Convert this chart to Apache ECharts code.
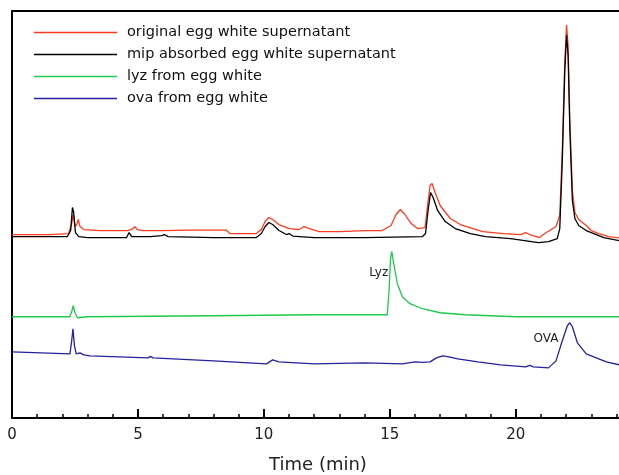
<!DOCTYPE html>
<html>
<head>
<meta charset="utf-8">
<script src="https://cdn.jsdelivr.net/npm/echarts@6/dist/echarts.min.js"></script>
<style>
  html, body { margin: 0; padding: 0; background: #fff; }
  #chart { width: 619px; height: 475px; }
</style>
</head>
<body>
<div id="chart"></div>
<script>
// chromatograms: [time (min), detector signal (arb. units)]
const seriesNames = [
  'original egg white supernatant',
  'mip absorbed egg white supernatant',
  'lyz from egg white',
  'ova from egg white'
];
const seriesColors = ['#ff3b1f', '#000000', '#1fc94a', '#25209c'];

const originalSup = [
  [0,183],[1.5,183],[2.25,184],[2.38,195],[2.43,203],[2.5,191],[2.57,193],[2.63,198],[2.7,191],[2.85,188],
  [3.5,187],[4.6,187],[4.8,189],[4.88,191],[4.97,188],[5.2,187],[6,187],[7,187.5],[8.5,187.5],[8.65,184],
  [9.7,184],[9.9,188],[10.05,196],[10.2,200],[10.35,198],[10.6,193],[11.0,189],[11.4,188],[11.6,191],[11.8,189],
  [12.2,186],[13.0,186],[14,187],[14.7,187],[15.05,192],[15.25,203],[15.42,208],[15.6,203],[15.85,194],[16.1,189],
  [16.4,190],[16.5,212],[16.6,232],[16.68,234],[16.8,225],[17.0,212],[17.4,199],[17.8,193],[18.3,189],[18.7,186],
  [19.5,184],[20.2,183],[20.4,185],[20.55,183],[20.95,180],[21.15,184],[21.35,187],[21.6,191],[21.75,202],[21.85,267],
  [21.95,357],[22.02,392],[22.08,372],[22.15,297],[22.25,227],[22.35,205],[22.5,198],[22.8,192],[23.0,187],[23.3,184],
  [23.7,181],[24.3,179]
];
const mipSup = [
  [0,181],[2.2,181],[2.33,187],[2.4,210],[2.45,205],[2.52,185],[2.65,181],[3,180],[4.55,180],[4.65,185],
  [4.75,181],[5.5,181],[5.95,182],[6.05,183],[6.2,181],[8,180],[9.7,180],[9.9,184],[10.05,191],[10.2,195],
  [10.35,193],[10.6,187],[10.9,183],[11.0,184],[11.15,181.5],[12,180],[14,180],[16.3,181],[16.42,184],[16.52,207],
  [16.62,225],[16.72,220],[16.9,207],[17.2,196],[17.6,189],[18.2,184],[18.8,181],[19.8,179],[20.9,175],[21.3,176],
  [21.65,179],[21.75,189],[21.85,257],[21.95,347],[22.02,382],[22.08,362],[22.15,287],[22.25,217],[22.35,199],[22.5,192],
  [22.8,187],[23.1,184],[23.5,180],[24.3,176]
];
const lyz = [
  [0,101],[2.3,101],[2.38,107],[2.43,112],[2.5,105],[2.6,100],[3,101],[8,102],[12,103],[14.9,103],
  [14.97,127],[15.03,159],[15.08,166],[15.15,155],[15.3,134],[15.5,121],[15.8,114],[16.3,109],[17,105],[18,103],
  [20,101],[24.3,101]
];
const ova = [
  [0,66],[2.3,64],[2.37,77],[2.42,89],[2.48,72],[2.55,64],[2.7,65],[2.85,63],[3.1,62],[5.4,60],
  [5.5,61.5],[5.6,60],[8,57],[10.1,54],[10.35,58],[10.6,56],[12,54],[14,55],[15.5,54],[16.0,56],
  [16.3,55.5],[16.6,56],[16.85,60],[17.1,62],[17.35,61],[17.7,59],[18.5,56],[19.4,53],[20.4,51],[20.55,52.5],
  [20.7,51],[21.3,50],[21.6,57],[21.85,77],[22.05,92],[22.15,95],[22.25,91],[22.45,75],[22.8,64],[23.2,60],
  [23.6,56],[24.3,52]
];
// peak labels [time, signal, text]
const lyzLabel = [14.56, 145, 'Lyz'];
const ovaLabel = [21.2, 79, 'OVA'];

const fontFamily = 'DejaVu Sans';
const chart = echarts.init(document.getElementById('chart'));

function peakLabel(p) {
  return {
    symbol: 'circle',
    symbolSize: 0,
    data: [{ coord: [p[0], p[1]], value: p[2] }],
    label: { show: true, position: 'inside', formatter: '{c}', color: '#222', fontSize: 12, fontFamily }
  };
}

const datasets = [originalSup, mipSup, lyz, ova];
const option = {
  animation: false,
  color: seriesColors,
  // plot runs a little past the right edge of the picture
  grid: { left: 12, right: -5, top: 11, bottom: 57, outerBoundsMode: 'none', containLabel: false },
  legend: {
    orient: 'vertical',
    left: 34,
    top: 25,
    padding: 0,
    itemGap: 7,
    itemWidth: 83,
    itemHeight: 1.5,
    icon: 'rect',
    textStyle: { fontFamily, fontSize: 14.5, color: '#111', padding: [0, 0, 0, 5] },
    data: seriesNames
  },
  xAxis: [
    {
      type: 'value',
      min: 0,
      max: 24.3,
      interval: 5,
      name: 'Time (min)',
      nameLocation: 'middle',
      nameGap: 38,
      nameTextStyle: { fontFamily, fontSize: 18, color: '#222' },
      axisLine: { lineStyle: { color: '#000', width: 2 } },
      axisTick: { inside: true, length: 9, lineStyle: { color: '#000', width: 2 } },
      minorTick: { show: true, splitNumber: 5, length: 4, lineStyle: { color: '#000', width: 1.5 } },
      axisLabel: { margin: 10, fontFamily, fontSize: 15, color: '#222', showMaxLabel: false },
      splitLine: { show: false }
    },
    {
      type: 'value',
      position: 'top',
      min: 0,
      max: 24.3,
      axisLine: { show: true, lineStyle: { color: '#000', width: 2 } },
      axisTick: { show: false },
      axisLabel: { show: false },
      splitLine: { show: false }
    }
  ],
  yAxis: {
    type: 'value',
    min: 0,
    max: 406,
    axisLine: { show: true, lineStyle: { color: '#000', width: 2 } },
    axisTick: { show: false },
    axisLabel: { show: false },
    splitLine: { show: false }
  },
  series: datasets.map((d, i) => ({
    name: seriesNames[i],
    type: 'line',
    data: d,
    showSymbol: false,
    symbol: 'none',
    lineStyle: { width: 1.3 },
    z: i === 1 ? 3 : 2,
    markPoint: i === 2 ? peakLabel(lyzLabel) : (i === 3 ? peakLabel(ovaLabel) : undefined)
  }))
};
chart.setOption(option);
</script>
</body>
</html>
